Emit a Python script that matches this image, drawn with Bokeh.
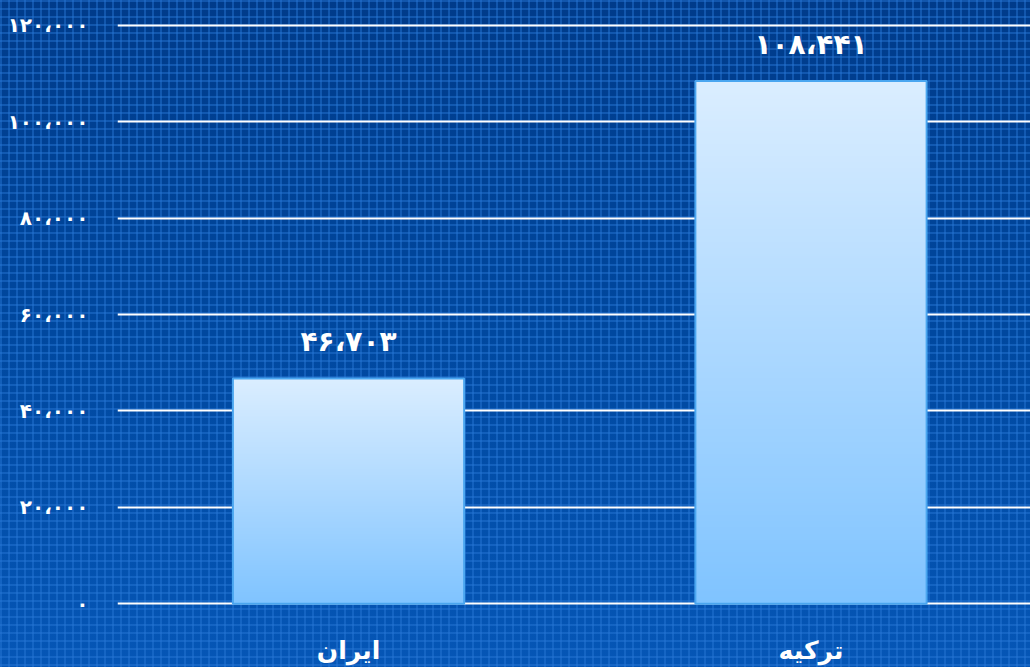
import numpy as np
from bokeh.plotting import figure
from bokeh.models import Range1d, FixedTicker, ColumnDataSource
from bokeh.core.properties import value
from bokeh.embed import file_html
from bokeh.resources import INLINE

# ---- data ----
categories = ["ایران", "ترکیه"]
values = [46703, 108441]
y_ticks = [0, 20000, 40000, 60000, 80000, 100000, 120000]

FA_DIGITS = str.maketrans("0123456789,", "۰۱۲۳۴۵۶۷۸۹،")


def fa(n):
    return "{:,}".format(int(n)).translate(FA_DIGITS)


FONT = "DejaVu Sans"

xs = list(range(len(categories)))

p = figure(
    width=1030, height=667,
    x_range=Range1d(-0.4995, 1.4746),
    y_range=Range1d(-1000, 121000),
    output_backend="svg", toolbar_location=None,
    min_border_left=117, min_border_right=0,
    min_border_top=20, min_border_bottom=57,
)
p.background_fill_alpha = 0
p.border_fill_alpha = 0
p.outline_line_color = None

# gridlines
p.xgrid.grid_line_color = None
p.ygrid.grid_line_color = "white"
p.ygrid.grid_line_width = 2
p.ygrid.ticker = FixedTicker(ticks=y_ticks)

# y axis
p.yaxis.ticker = FixedTicker(ticks=y_ticks)
p.yaxis.major_label_overrides = {t: fa(t) for t in y_ticks}
p.yaxis.axis_line_color = None
p.yaxis.major_tick_line_color = None
p.yaxis.minor_tick_line_color = None
p.yaxis.major_tick_out = 0
p.yaxis.major_label_standoff = 29
p.yaxis.major_label_text_color = "white"
p.yaxis.major_label_text_font = FONT
p.yaxis.major_label_text_font_style = "bold"
p.yaxis.major_label_text_font_size = "20px"

# x axis
p.xaxis.ticker = FixedTicker(ticks=xs)
p.xaxis.major_label_overrides = {i: c for i, c in zip(xs, categories)}
p.xaxis.axis_line_color = None
p.xaxis.major_tick_line_color = None
p.xaxis.minor_tick_line_color = None
p.xaxis.major_tick_out = 0
p.xaxis.major_label_standoff = 27
p.xaxis.major_label_text_color = "white"
p.xaxis.major_label_text_font = FONT
p.xaxis.major_label_text_font_style = "bold"
p.xaxis.major_label_text_font_size = "25px"

# gradient for bars (bottom -> top)
n = 256
bottom_c = np.array([0x80, 0xC4, 0xFF], dtype=float)
top_c = np.array([0xDB, 0xEE, 0xFF], dtype=float)
t = np.linspace(0, 1, n)[:, None]
cols = (bottom_c + (top_c - bottom_c) * t).astype(np.uint32)
grad = np.zeros((n, 1), dtype=np.uint32)
view = grad.view(dtype=np.uint8).reshape((n, 1, 4))
view[:, 0, 0] = cols[:, 0]
view[:, 0, 1] = cols[:, 1]
view[:, 0, 2] = cols[:, 2]
view[:, 0, 3] = 255

bar_w = 0.5
src = ColumnDataSource(dict(
    x=xs,
    left=[x - bar_w / 2 for x in xs],
    top=values,
    zero=[0] * len(xs),
    dw=[bar_w] * len(xs),
    image=[grad for _ in xs],
    label=[fa(v) for v in values],
))

p.image_rgba(image="image", x="left", y="zero", dw="dw", dh="top", source=src)
p.vbar(x="x", top="top", width=bar_w, source=src,
       fill_alpha=0, line_color="#4aa6f0", line_width=2)

p.text(x="x", y="top", text="label", source=src,
       text_align="center", text_baseline="middle", y_offset=-37,
       text_color="white", text_font=value(FONT), text_font_style="bold",
       text_font_size="28px")

html = file_html(p, INLINE)
css = """<style>
html { min-height: 100%;
  background-color: #0049a0;
  background-image:
    linear-gradient(90deg, rgba(40,120,215,0.45) 2px, transparent 2px),
    linear-gradient(180deg, rgba(40,120,215,0.45) 2px, transparent 2px),
    linear-gradient(180deg, #003b8a 0%, #00489f 50%, #0556b6 100%);
  background-size: 8px 8px, 8px 8px, 100% 100%;
}
body { background: transparent; }
</style></head>"""
html = html.replace("</head>", css, 1)
open("out.html", "w").write(html)
